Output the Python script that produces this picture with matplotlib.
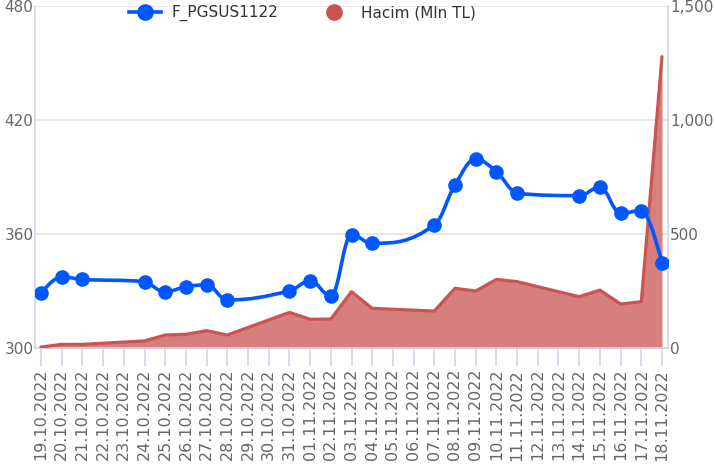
import matplotlib
matplotlib.use('Agg')
import matplotlib.pyplot as plt
from matplotlib.path import Path
from matplotlib.patches import PathPatch
from matplotlib.lines import Line2D
from matplotlib.ticker import FuncFormatter, FixedLocator

# ---------------- data ----------------
day_labels = [
    "19.10.2022", "20.10.2022", "21.10.2022", "22.10.2022", "23.10.2022",
    "24.10.2022", "25.10.2022", "26.10.2022", "27.10.2022", "28.10.2022",
    "29.10.2022", "30.10.2022", "31.10.2022", "01.11.2022", "02.11.2022",
    "03.11.2022", "04.11.2022", "05.11.2022", "06.11.2022", "07.11.2022",
    "08.11.2022", "09.11.2022", "10.11.2022", "11.11.2022", "12.11.2022",
    "13.11.2022", "14.11.2022", "15.11.2022", "16.11.2022", "17.11.2022",
    "18.11.2022",
]
trade_days = [
    "19.10.2022", "20.10.2022", "21.10.2022", "24.10.2022", "25.10.2022",
    "26.10.2022", "27.10.2022", "28.10.2022", "31.10.2022", "01.11.2022",
    "02.11.2022", "03.11.2022", "04.11.2022", "07.11.2022", "08.11.2022",
    "09.11.2022", "10.11.2022", "11.11.2022", "14.11.2022", "15.11.2022",
    "16.11.2022", "17.11.2022", "18.11.2022",
]
price = [328.8, 337.5, 336.1, 334.9, 329.6, 332.3, 333.2, 325.3, 330.0, 335.3,
         327.5, 359.5, 355.1, 364.7, 385.8, 399.3, 392.8, 381.4, 380.2, 384.6,
         370.9, 372.3, 344.6]
volume = [4, 16, 16, 31, 57, 60, 76, 57, 156, 126,
          127, 247, 174, 162, 262, 250, 301, 291, 225, 254,
          193, 203, 1278]
left_ticks = [300, 360, 420, 480]
right_ticks = [0, 500, 1000, 1500]
series_names = ["F_PGSUS1122", "Hacim (Mln TL)"]

# ---------------- style ----------------
BLUE = "#0057FF"
RED_LINE = "#CB5452"
RED_FILL = "#D67F7C"
AXIS_C = "#CCD6EB"
GRID_C = "#E6E6E6"
TXT_C = "#666666"

plt.rcParams['font.family'] = ['DejaVu Sans']

x = [day_labels.index(d) for d in trade_days]


def hc_spline(xs, ys, smoothing=1.5):
    """Highcharts-style spline as cubic Bezier path."""
    denom = smoothing + 1
    n = len(xs)
    lc = [None] * n
    rc = [None] * n
    for i in range(n):
        px, py = xs[i], ys[i]
        if 0 < i < n - 1:
            lx, ly = xs[i - 1], ys[i - 1]
            nx, ny = xs[i + 1], ys[i + 1]
            lcx = (smoothing * px + lx) / denom
            lcy = (smoothing * py + ly) / denom
            rcx = (smoothing * px + nx) / denom
            rcy = (smoothing * py + ny) / denom
            corr = ((rcy - lcy) * (rcx - px)) / (rcx - lcx) + py - rcy
            lcy += corr
            rcy += corr
            if lcy > ly and lcy > py:
                lcy = max(ly, py); rcy = 2 * py - lcy
            elif lcy < ly and lcy < py:
                lcy = min(ly, py); rcy = 2 * py - lcy
            if rcy > ny and rcy > py:
                rcy = max(ny, py); lcy = 2 * py - rcy
            elif rcy < ny and rcy < py:
                rcy = min(ny, py); lcy = 2 * py - rcy
            lc[i] = (lcx, lcy)
            rc[i] = (rcx, rcy)
        else:
            lc[i] = (px, py)
            rc[i] = (px, py)
    verts = [(xs[0], ys[0])]
    codes = [Path.MOVETO]
    for i in range(1, n):
        verts += [rc[i - 1], lc[i], (xs[i], ys[i])]
        codes += [Path.CURVE4] * 3
    return Path(verts, codes)


fig = plt.figure(figsize=(7.15, 4.70), dpi=100)
ax2 = fig.add_axes([35 / 715, 1 - 348 / 470, (668 - 35) / 715, (348 - 6) / 470])
ax = ax2.twinx()
ax.set_zorder(ax2.get_zorder() + 1)
ax.patch.set_visible(False)

# red area on ax2 (right axis)
ax2.fill_between(x, volume, 0, color=RED_FILL, linewidth=0, zorder=2)
ax2.plot(x, volume, color=RED_LINE, lw=2.3, solid_joinstyle='round',
         solid_capstyle='round', zorder=3)
ax2.set_ylim(0, 1500)
ax2.yaxis.set_major_locator(FixedLocator(right_ticks))
ax2.yaxis.tick_right()
ax2.yaxis.set_major_formatter(FuncFormatter(lambda v, p: f"{int(v):,}"))
ax2.grid(axis='y', color=GRID_C, lw=1.3)
ax2.set_axisbelow(True)

# blue spline on ax (left axis)
ax.yaxis.tick_left()
path = hc_spline(x, price)
ax.add_patch(PathPatch(path, fill=False, edgecolor=BLUE, lw=2.6,
                       joinstyle='round', capstyle='round', zorder=4))
ax.plot(x, price, 'o', color=BLUE, ms=9.5, zorder=5)
ax.set_ylim(300, 480)
ax.yaxis.set_major_locator(FixedLocator(left_ticks))

for a in (ax, ax2):
    a.set_xlim(-0.29, 30.29)
    for s in a.spines.values():
        s.set_visible(False)

for s in ('left', 'right', 'bottom'):
    ax2.spines[s].set_visible(True)
    ax2.spines[s].set_color(AXIS_C)
    ax2.spines[s].set_linewidth(1.2)

ax2.set_xticks(range(len(day_labels)))
ax2.set_xticklabels(day_labels, rotation=90)
ax2.tick_params(axis='x', length=13, width=1.2, color=AXIS_C, labelcolor=TXT_C,
                labelsize=11.5, pad=2)
ax2.tick_params(axis='y', length=0, labelcolor=TXT_C, labelsize=11, pad=1.5)
ax.tick_params(axis='y', length=0, labelcolor=TXT_C, labelsize=11, pad=1,
               right=False, labelright=False, left=True, labelleft=True)
ax.tick_params(axis='x', bottom=False, labelbottom=False)

handles = [
    Line2D([], [], color=BLUE, lw=2.6, marker='o', ms=11),
    Line2D([], [], color=RED_LINE, ls='none', marker='o', ms=11),
]
fig.legend(handles, series_names, loc='upper left',
           bbox_to_anchor=(129 / 715, 1 - 5 / 470), ncol=2, frameon=False,
           fontsize=11, handlelength=2.1, handletextpad=0.7, columnspacing=2.6,
           borderpad=0, borderaxespad=0, labelcolor='#333333')

fig.savefig("out.png", dpi=100)
